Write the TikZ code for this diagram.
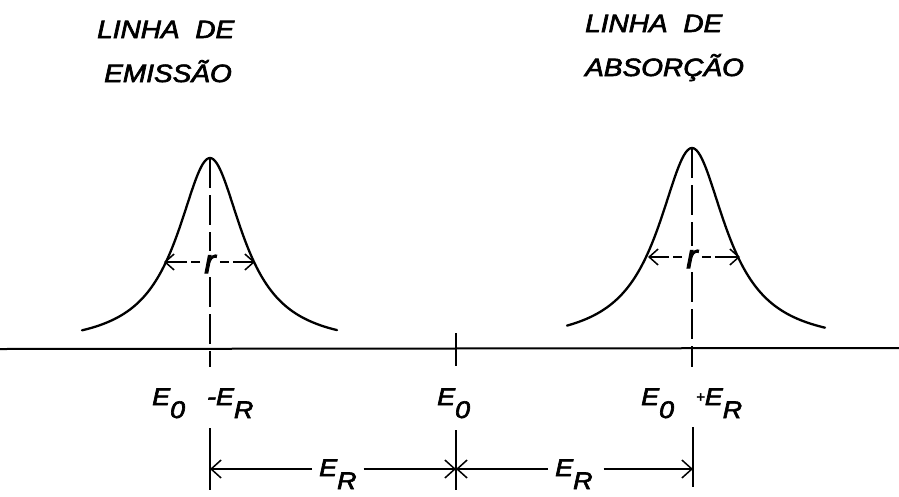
\documentclass[tikz,border=0pt]{standalone}
\usepackage{fontspec}
\usepackage{graphicx}
\setmainfont{Liberation Sans}
\usetikzlibrary{arrows.meta}
\newcommand{\lowsub}[1]{\raisebox{-13pt}{#1}}
\newcommand{\wide}[1]{\scalebox{1.12}[1]{#1}}
\begin{document}
\begin{tikzpicture}[x=1pt,y=-1pt,
  curve/.style={line width=2.3pt, line cap=round},
  axisline/.style={line width=2pt},
  dashline/.style={line width=1.6pt, dash pattern=on 30pt off 7pt},
  harrow/.style={line width=1.5pt, dash pattern=on 9pt off 4pt on 40pt, -{Straight Barb[length=9pt,width=16pt,line width=1.5pt]}},
  thin/.style={line width=1.6pt},
  dimarrow/.style={line width=1.5pt, -{Straight Barb[length=10pt,width=18pt,line width=1.5pt]}},
  lab/.style={font=\fontsize{24}{28}\selectfont\itshape\addfontfeature{FakeBold=2.5}, inner sep=0pt},
  title/.style={font=\fontsize{25}{30}\selectfont\itshape\addfontfeature{FakeBold=2.5}, inner sep=0pt},
  rlab/.style={font=\fontsize{34}{34}\selectfont\itshape\addfontfeature{FakeBold=2.5}, inner sep=4pt},
  erlab/.style={font=\fontsize{24}{28}\selectfont\itshape\addfontfeature{FakeBold=2.5}, inner xsep=7pt, inner ysep=0pt}
]
\useasboundingbox (0,0) rectangle (899,496);

% titles
\node[title, anchor=base west] (t1) at (97,38) {\wide{LINHA\hspace{14pt}DE}};
\node[title, anchor=base west] (t2) at (104,82) {\wide{EMISSÃO}};
\node[title, anchor=base west] (t3) at (585,32) {\wide{LINHA\hspace{14pt}DE}};
\node[title, anchor=base west] (t4) at (585,76) {\wide{ABSORÇÃO}};

% axis
\coordinate (axL) at (0,349);
\coordinate (axR) at (899,348);
\draw[axisline] (axL) -- (axR);

% emission line
\draw[curve] plot[domain=-128:127, samples=160, smooth] ({210+\x}, {347-189/(1+(\x/39.8)^2)});
\coordinate (p1) at (210,158);
\coordinate (p1b) at (210,367);
\node[rlab] (r1) at (210,264) {r};
\draw[dashline] (p1) -- (r1.north);
\draw[dashline] (r1.south) -- (p1b);
\coordinate (h1l) at (164,262);
\coordinate (h1r) at (255,262);
\draw[harrow] (r1.west |- h1l) -- (h1l);
\draw[harrow] (r1.east |- h1r) -- (h1r);

% absorption line
\draw[curve] plot[domain=-125:133, samples=160, smooth] ({692+\x}, {345-197/(1+(\x/41.3)^2)});
\coordinate (p2) at (692,148);
\coordinate (p2b) at (692,367);
\node[rlab] (r2) at (692,259) {r};
\draw[dashline] (p2) -- (r2.north);
\draw[dashline] (r2.south) -- (p2b);
\coordinate (h2l) at (648,257);
\coordinate (h2r) at (740,257);
\draw[harrow] (r2.west |- h2l) -- (h2l);
\draw[harrow] (r2.east |- h2r) -- (h2r);

% center tick
\coordinate (c1) at (456,333);
\coordinate (c2) at (456,366);
\draw[thin] (c1) -- (c2);

% energy labels
\node[lab, anchor=base west] (lm) at (152,405) {\wide{E\lowsub{0}}\hspace{22pt}\wide{-E\lowsub{R}}};
\node[lab, anchor=base west] (lc) at (437,405) {\wide{E\lowsub{0}}};
\node[lab, anchor=base west] (lp) at (641,405) {\wide{E\lowsub{0}}\hspace{22pt}\raisebox{3pt}{\fontsize{15}{15}\selectfont +}\wide{E\lowsub{R}}};

% dimension lines
\coordinate (v1t) at (210,428); \coordinate (v1b) at (210,490);
\coordinate (v2t) at (456,430); \coordinate (v2b) at (456,490);
\coordinate (v3t) at (693,427); \coordinate (v3b) at (693,487);
\draw[thin] (v1t) -- (v1b);
\draw[thin] (v2t) -- (v2b);
\draw[thin] (v3t) -- (v3b);
\coordinate (a1) at (210,469);
\coordinate (a2) at (456,469);
\coordinate (a3) at (693,469);
\node[erlab, anchor=base west] (er1) at (312,476) {\wide{E\lowsub{R}}};
\node[erlab, anchor=base west] (er2) at (548,476) {\wide{E\lowsub{R}}};
\draw[dimarrow] (er1.west |- a1) -- (a1);
\draw[dimarrow] (er1.east |- a2) -- (a2);
\draw[dimarrow] (er2.west |- a2) -- (a2);
\draw[dimarrow] ([xshift=4pt]er2.east |- a3) -- (a3);
\end{tikzpicture}
\end{document}
